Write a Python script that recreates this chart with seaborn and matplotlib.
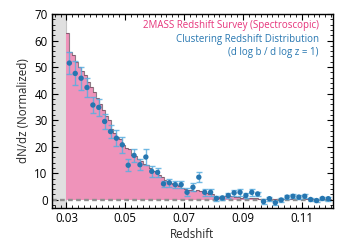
import numpy as np
import pandas as pd
import matplotlib
matplotlib.use("Agg")
import matplotlib.pyplot as plt
from matplotlib.ticker import MultipleLocator
import seaborn as sns

# ---------------- data ----------------
hist_edges = [round(0.030 + 0.001 * i, 4) for i in range(91)]
hist_values = [63, 55.5, 54.5, 52, 50, 48.5, 47, 44.5, 42.5, 40.5,
               38.5, 36, 34, 31.5, 30, 26.5, 25, 23.5, 23, 20.5,
               19.5, 19, 17, 16.5, 15.5, 14.5, 13.5, 13, 12, 11,
               10.5, 9.5, 8.5, 7.5, 7, 6.5, 6, 5.7, 5, 4.5,
               4.2, 3.8, 3.5, 3.3, 3.8, 3.2, 2.8, 2.5, 2.3, 2.0,
               1.0, 0.6, 1.1, 1.3, 1.5, 1.6, 1.4, 1.2, 1.0, 0.8,
               0.9, 0.7, 0.6, 0.6, 0.5, 0.4, 0.2, 0.1, 0.3, 0.2,
               0.3, 0.2, 0.3, 0.2, 0.3, 0.2, 0.3, 0.1, 0.2, 0.3,
               0.2, 0.1, 0.2, 0.1, 0.2, 0.1, 0.2, 0.1, 0.1, 0.1]

cl_z = np.round(np.arange(0.031, 0.1195, 0.002), 4)
cl_val = [51.5, 47.6, 45.8, 42.3, 35.7, 34.8, 29.5, 25.7, 23.2, 20.7,
          13.0, 16.7, 13.2, 16.1, 10.7, 10.3, 6.0, 6.4, 5.7, 5.7,
          2.8, 4.7, 8.5, 2.8, 2.8, 0.5, 0.7, 1.6, 2.6, 2.8,
          1.6, 2.8, 2.2, -0.7, 0.4, -1.1, -0.1, 1.0, 1.3, 1.0,
          1.3, 0.1, -0.3, 0.5, 0.4]
cl_err = [4.2, 4.5, 4.4, 3.4, 2.9, 3.2, 3.0, 2.5, 3.1, 3.1,
          2.2, 2.5, 2.0, 2.9, 2.0, 1.7, 1.2, 1.5, 1.3, 1.3,
          1.5, 1.5, 1.8, 1.2, 1.2, 0.8, 0.8, 1.0, 1.0, 1.2,
          1.0, 1.2, 0.9, 1.0, 0.8, 0.8, 0.7, 0.8, 0.8, 0.8,
          0.8, 0.7, 0.7, 0.7, 0.7]

x_ticks = [0.03, 0.05, 0.07, 0.09, 0.11]
x_tick_labels = ["0.03", "0.05", "0.07", "0.09", "0.11"]
y_ticks = [0, 10, 20, 30, 40, 50, 60, 70]

label_spec = "2MASS Redshift Survey (Spectroscopic)"
label_clus1 = "Clustering Redshift Distribution"
label_clus2 = "(d log b / d log z = 1)"

# ---------------- style ----------------
sns.set_theme(style="ticks")
plt.rcParams["font.family"] = ["Open Sans", "DejaVu Sans"]

PINK = "#ef93ba"
PINK_TXT = "#e6347b"
BLUE = "#2676b0"
BLUE_ERR = "#5aaee0"

fig = plt.figure(figsize=(3.5, 2.45), dpi=100)
ax = fig.add_axes([0.1477, 0.1522, 0.8029, 0.7907])

hist_df = pd.DataFrame({
    "z": [(hist_edges[i] + hist_edges[i + 1]) / 2 for i in range(len(hist_values))],
    "w": hist_values,
})

ax.axvspan(0.025, 0.030, color="#e0e0e0", zorder=0, lw=0)
ax.axvline(0.030, color="#c4c4c4", lw=0.8, zorder=0.5)

sns.histplot(data=hist_df, x="z", weights="w", binwidth=0.001,
             binrange=(0.030, 0.120),
             element="step", fill=True, color=PINK, alpha=1.0,
             linewidth=0, ax=ax, zorder=1)
sns.histplot(data=hist_df, x="z", weights="w", binwidth=0.001,
             binrange=(0.030, 0.120),
             element="step", fill=False, color="#5e4452",
             linewidth=0.8, alpha=0.7, ax=ax, zorder=1.5)

ax.axhline(0, color="#8f8f8f", lw=1.7, ls=(0, (2.0, 1.4)), zorder=2)

ax.errorbar(cl_z, cl_val, yerr=cl_err, fmt="none", ecolor=BLUE_ERR,
            elinewidth=1.0, capsize=2.5, capthick=1.0, alpha=0.85, zorder=3)
sns.scatterplot(x=cl_z, y=cl_val, color=BLUE, s=15, edgecolor="none",
                ax=ax, zorder=4)

ax.set_xlim(0.025, 0.1205)
ax.set_ylim(-3, 70)
ax.set_xticks(x_ticks)
ax.set_xticklabels(x_tick_labels)
ax.set_yticks(y_ticks)
ax.xaxis.set_minor_locator(MultipleLocator(0.002))
ax.yaxis.set_minor_locator(MultipleLocator(2))
ax.tick_params(which="both", direction="in", top=True, right=True,
               colors="black", labelsize=8.3, pad=3)
ax.tick_params(which="major", length=4, width=0.8)
ax.tick_params(which="minor", length=2, width=0.6)
for s in ax.spines.values():
    s.set_color("black")
    s.set_linewidth(1.0)

ax.set_xlabel("Redshift", fontsize=8.3, labelpad=2)
ax.set_ylabel("dN/dz (Normalized)", fontsize=8.3, labelpad=3)

ax.text(0.951, 0.94, label_spec, transform=ax.transAxes, ha="right",
        va="center", fontsize=7, color=PINK_TXT)
ax.text(0.951, 0.866, label_clus1, transform=ax.transAxes, ha="right",
        va="center", fontsize=7, color=BLUE)
ax.text(0.951, 0.799, label_clus2, transform=ax.transAxes, ha="right",
        va="center", fontsize=7, color=BLUE)

fig.savefig("out.png", dpi=100)
